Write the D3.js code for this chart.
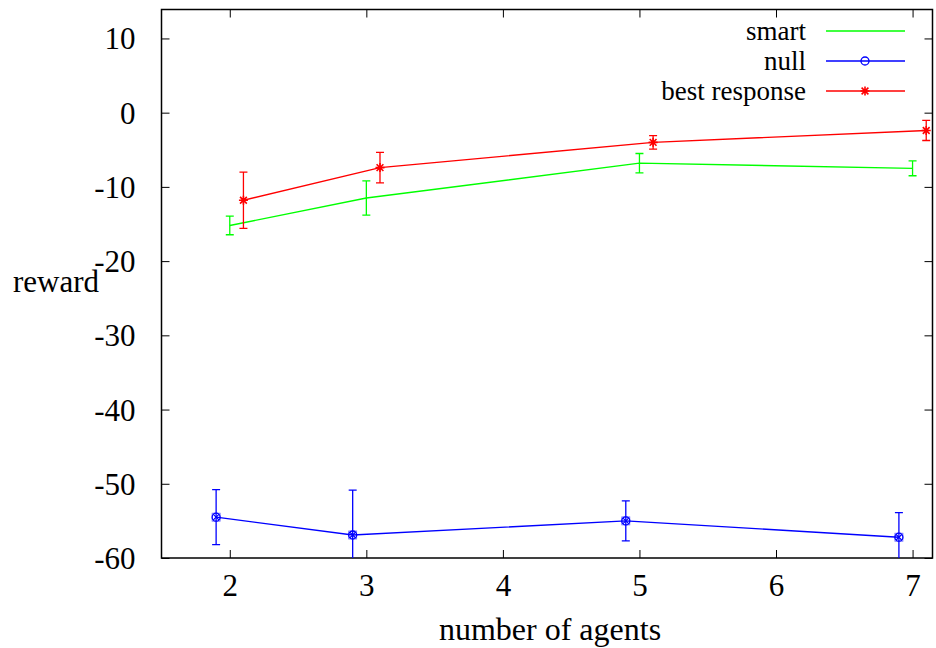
<!DOCTYPE html>
<html><head><meta charset="utf-8">
<script src="https://cdn.jsdelivr.net/npm/d3@7"></script>
<style>
body{margin:0;background:#fff;}
svg text{font-family:'Liberation Serif','Times New Roman',Times,'DejaVu Serif',serif;fill:#000;}
</style></head>
<body><svg id="c" width="936" height="648"></svg>
<script>
const agents = [2, 3, 5, 7];
const xTicks = [2, 3, 4, 5, 6, 7];
const yTicks = [-60, -50, -40, -30, -20, -10, 0, 10];
const smartVals = [-15.2, -11.5, -6.8, -7.5];
const smartErr = [1.25, 2.3, 1.3, 1.0];
const nullVals = [-54.5, -56.9, -55.0, -57.2];
const nullErr = [3.7, 6.05, 2.7, 3.3];
const bestVals = [-11.8, -7.4, -4.0, -2.4];
const bestErr = [3.8, 2.05, 0.9, 1.35];
const seriesNames = ["smart", "null", "best response"];
const seriesOffsets = [0, -0.1, 0.1];

const FONT = "'Liberation Serif','Times New Roman',Times,'DejaVu Serif',serif";
const svg = d3.select("#c");
const L = 161.5, R = 932.5, T = 9.5, B = 558;
const x = d3.scaleLinear().domain([1.5, 7.146]).range([L, R]);
const y = d3.scaleLinear().domain([-60, 13.9]).range([B, T]);

svg.append("defs").append("clipPath").attr("id", "plotclip").append("rect")
  .attr("x", L).attr("y", T).attr("width", R - L).attr("height", B - T);

const fs = 31, lfs = 27;
const fmt = d => String(d);
const axB = svg.append("g").attr("transform", `translate(0,${B})`)
  .call(d3.axisBottom(x).tickValues(xTicks).tickSize(-8).tickPadding(16).tickFormat(fmt));
const axT = svg.append("g").attr("transform", `translate(0,${T})`)
  .call(d3.axisTop(x).tickValues(xTicks).tickSize(-8).tickFormat(""));
const axL = svg.append("g").attr("transform", `translate(${L},0)`)
  .call(d3.axisLeft(y).tickValues(yTicks).tickSize(-8).tickPadding(26).tickFormat(fmt));
const axR = svg.append("g").attr("transform", `translate(${R},0)`)
  .call(d3.axisRight(y).tickValues(yTicks).tickSize(-8).tickFormat(""));
[axB, axT, axL, axR].forEach(a => {
  a.attr("font-family", null).attr("font-size", null);
  a.select(".domain").remove();
  a.selectAll(".tick line").attr("stroke", "#000").attr("stroke-width", 1);
  a.selectAll("text").style("font-size", fs + "px").style("font-family", FONT);
});
axB.selectAll("text").attr("dy", "0.71em");
axL.selectAll("text").attr("dy", "0.34em");

svg.append("rect").attr("x", L).attr("y", T).attr("width", R - L).attr("height", B - T)
  .attr("fill", "none").attr("stroke", "#000").attr("stroke-width", 1.5);

svg.append("text").attr("x", 550).attr("y", 640).attr("text-anchor", "middle")
  .style("font-size", "32px").style("font-family", FONT).text("number of agents");
svg.append("text").attr("x", 56).attr("y", 292).attr("text-anchor", "middle")
  .style("font-size", fs + "px").style("font-family", FONT).text("reward");

const series = [
  {name: seriesNames[0], vals: smartVals, err: smartErr, off: seriesOffsets[0], color: "#00ff00", marker: "none"},
  {name: seriesNames[1], vals: nullVals, err: nullErr, off: seriesOffsets[1], color: "#0000ff", marker: "circle"},
  {name: seriesNames[2], vals: bestVals, err: bestErr, off: seriesOffsets[2], color: "#ff0000", marker: "star"}
];

const plot = svg.append("g").attr("clip-path", "url(#plotclip)");
const line = d3.line().x(d => x(d.x)).y(d => y(d.y));

function drawMarker(g, type, cx, cy, color, inPlot) {
  if (type === "circle") {
    g.append("circle").attr("cx", cx).attr("cy", cy).attr("r", 4)
      .attr("fill", "none").attr("stroke", color).attr("stroke-width", 1.3);
    if (inPlot) {
      const s = 3;
      g.append("path").attr("d", `M${cx-s},${cy-s}L${cx+s},${cy+s}M${cx-s},${cy+s}L${cx+s},${cy-s}`)
        .attr("stroke", color).attr("stroke-width", 1.2);
      g.append("rect").attr("x", cx-4).attr("y", cy-4).attr("width", 8).attr("height", 8)
        .attr("fill", "none").attr("stroke", color).attr("stroke-width", 0.8).attr("opacity", 0.6);
    }
  } else if (type === "star") {
    const s = 4.5, d = 3.4;
    g.append("path").attr("d",
      `M${cx-s},${cy}L${cx+s},${cy}M${cx},${cy-s}L${cx},${cy+s}M${cx-d},${cy-d}L${cx+d},${cy+d}M${cx-d},${cy+d}L${cx+d},${cy-d}`)
      .attr("stroke", color).attr("stroke-width", 1.6);
  }
}

series.forEach(s => {
  const pts = agents.map((a, i) => ({x: a + s.off, y: s.vals[i], e: s.err[i]}));
  plot.append("path").datum(pts).attr("d", line).attr("fill", "none")
    .attr("stroke", s.color).attr("stroke-width", 1.4);
  pts.forEach(p => {
    const cx = x(p.x), y1 = y(p.y + p.e), y2 = y(p.y - p.e);
    plot.append("path").attr("d", `M${cx},${y1}L${cx},${y2}M${cx-4},${y1}L${cx+4},${y1}M${cx-4},${y2}L${cx+4},${y2}`)
      .attr("stroke", s.color).attr("stroke-width", 1.3).attr("fill", "none");
    drawMarker(plot, s.marker, cx, y(p.y), s.color, true);
  });
});

const lg = svg.append("g");
const legY = [31, 61, 91];
series.forEach((s, i) => {
  lg.append("text").attr("x", 806).attr("y", legY[i]).attr("dy", "0.34em").attr("text-anchor", "end")
    .style("font-size", lfs + "px").style("font-family", FONT).text(s.name);
  lg.append("line").attr("x1", 826).attr("x2", 905).attr("y1", legY[i]).attr("y2", legY[i])
    .attr("stroke", s.color).attr("stroke-width", 1.3);
  drawMarker(lg, s.marker, 865, legY[i], s.color, false);
});
</script></body></html>
